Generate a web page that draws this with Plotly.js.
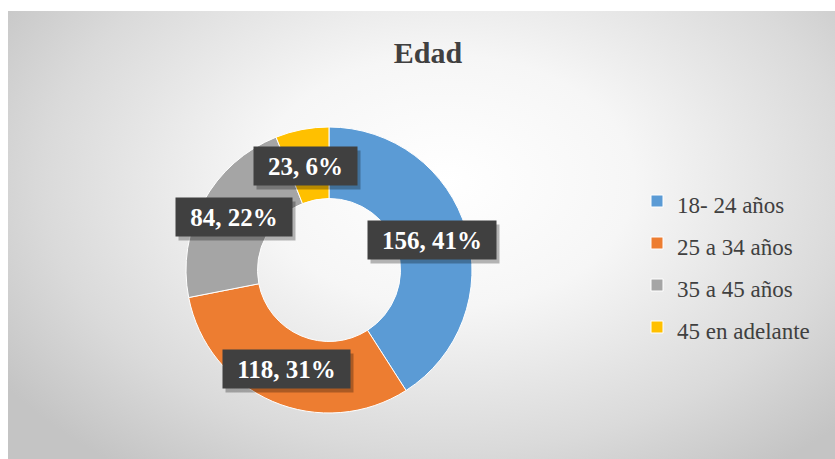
<!DOCTYPE html>
<html>
<head>
<meta charset="utf-8">
<script src="https://cdn.plot.ly/plotly-3.0.1.min.js"></script>
<style>
  body { margin: 0; background: #ffffff; }
  #frame {
    position: absolute; left: 8px; top: 11px; width: 827px; height: 448px;
    background: radial-gradient(ellipse 65% 80% at 53% 38%, #ffffff 0%, #f6f6f6 35%, #dadada 75%, #c4c4c4 100%);
  }
  #myDiv { position: absolute; left: 0; top: 0; width: 835px; height: 459px; }
</style>
</head>
<body>
<div id="frame"></div>
<div id="myDiv"></div>
<script>
var categories = ['18- 24 años', '25 a 34 años', '35 a 45 años', '45 en adelante'];
var counts = [156, 118, 84, 23];
var percents = [41, 31, 22, 6];
var colors = ['#5b9bd5', '#ed7d31', '#a5a5a5', '#ffc000'];

var W = 835, H = 459;
var cx = 329, cy = 270, R = 143, hole = 0.5;
// small nudges to match where Excel put the labels
var labelShift = [[0, 0], [0, 0], [-1, -2], [-3, 1]];

var serif = 'Liberation Serif';
var labelSize = 25;

var trace = {
    type: 'pie',
    labels: categories.map(function (c) {
        return '<span style="font-size:23px">' + c + '</span>';
    }),
    values: counts,
    hole: hole,
    sort: false,
    direction: 'clockwise',
    rotation: 0,
    textinfo: 'none',
    hoverinfo: 'label+value+percent',
    marker: { colors: colors, line: { color: '#ffffff', width: 1 } },
    domain: {
        x: [(cx - R) / W, (cx + R) / W],
        y: [1 - (cy + R) / H, 1 - (cy - R) / H]
    }
};

// measure label text so the box and its shadow share one size
var ctx = document.createElement('canvas').getContext('2d');
ctx.font = 'bold ' + labelSize + 'px "' + serif + '"';

var total = counts.reduce(function (a, b) { return a + b; }, 0);
var annotations = [];
var shadows = [];
var cum = 0;
var rMid = R * (1 + hole) / 2;
for (var i = 0; i < counts.length; i++) {
    var mid = (cum + counts[i] / 2) / total * 2 * Math.PI;
    cum += counts[i];
    var px = cx + rMid * Math.sin(mid) + labelShift[i][0];
    var py = cy - rMid * Math.cos(mid) + labelShift[i][1];
    var plain = counts[i] + ', ' + percents[i] + '%';
    var boxW = Math.round(ctx.measureText(plain).width + 20);
    var base = {
        xref: 'paper', yref: 'paper',
        x: px / W, y: 1 - py / H,
        xanchor: 'center', yanchor: 'middle',
        showarrow: false,
        width: boxW,
        height: 30,
        borderpad: 4
    };
    shadows.push(Object.assign({}, base, {
        text: '&nbsp;',
        xshift: 3, yshift: -4,
        bgcolor: 'rgba(0,0,0,0.28)',
        font: { family: serif, size: labelSize, color: 'rgba(0,0,0,0)' }
    }));
    annotations.push(Object.assign({}, base, {
        text: '<b>' + plain + '</b>',
        bgcolor: '#404040',
        font: { family: serif, size: labelSize, color: '#ffffff' }
    }));
}

var layout = {
    width: W,
    height: H,
    margin: { l: 0, r: 0, t: 0, b: 0 },
    paper_bgcolor: 'rgba(0,0,0,0)',
    plot_bgcolor: 'rgba(0,0,0,0)',
    title: {
        text: '<b>Edad</b>',
        x: 428 / W,
        xanchor: 'center',
        y: 1 - 52 / H,
        yanchor: 'middle',
        font: { family: serif, size: 30, color: '#404040' }
    },
    showlegend: true,
    legend: {
        x: 637 / W,
        xanchor: 'left',
        y: 1 - 264 / H,
        yanchor: 'middle',
        bgcolor: 'rgba(0,0,0,0)',
        font: { family: serif, size: 30, color: '#404040' },
        traceorder: 'normal'
    },
    annotations: shadows.concat(annotations)
};

Plotly.newPlot('myDiv', [trace], layout, { displayModeBar: false });
</script>
</body>
</html>
